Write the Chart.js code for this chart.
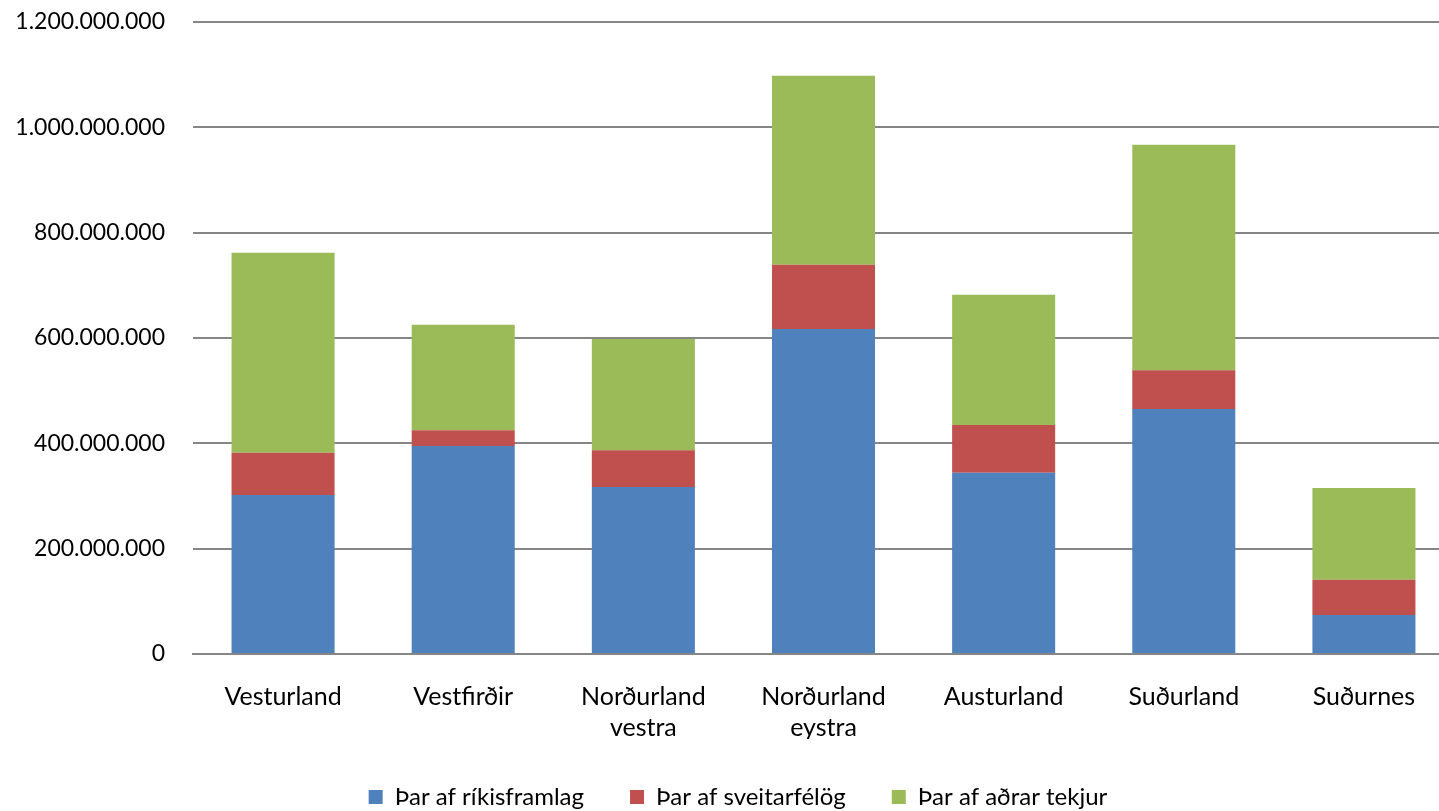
<!DOCTYPE html>
<html>
<head>
<meta charset="utf-8">
<script src="https://cdn.jsdelivr.net/npm/chart.js@4"></script>
<style>
html,body{margin:0;padding:0;background:#fff;overflow:hidden;}
#wrap{width:1439px;height:811px;position:relative;overflow:hidden;}
</style>
</head>
<body>
<div id="wrap"><canvas id="c" width="1454" height="811"></canvas></div>
<script>
const categories = [["Vesturland"], ["Vestfirðir"], ["Norðurland", "vestra"], ["Norðurland", "eystra"], ["Austurland"], ["Suðurland"], ["Suðurnes"]];
const rikisframlag = [302000000, 395000000, 317000000, 617000000, 344000000, 465000000, 74000000];
const sveitarfelog = [80000000, 30000000, 70000000, 122000000, 91000000, 74000000, 67000000];
const adrarTekjur = [380000000, 200000000, 211000000, 359000000, 247000000, 428000000, 174000000];
const seriesNames = ["Þar af ríkisframlag", "Þar af sveitarfélög", "Þar af aðrar tekjur"];
const yTicks = [0, 200000000, 400000000, 600000000, 800000000, 1000000000, 1200000000];

const FONT = "Lato, 'Open Sans', sans-serif";
function fmt(v){ return String(Math.round(v)).replace(/\B(?=(\d{3})+(?!\d))/g, "."); }

const legendFix = {
  id: 'legendFix',
  afterInit(chart){
    const lg = chart.legend;
    if (!lg) return;
    const origFit = lg.fit;
    lg.fit = function(){ origFit.call(this); this.height = 72; };
    const origDraw = lg.draw;
    lg.draw = function(){
      const ctx = this.ctx;
      ctx.save();
      ctx.translate(11, 0);
      origDraw.call(this);
      ctx.restore();
    };
  }
};

new Chart(document.getElementById('c'), {
  type: 'bar',
  data: {
    labels: categories,
    datasets: [
      {label: seriesNames[0], data: rikisframlag, backgroundColor: '#4F81BD'},
      {label: seriesNames[1], data: sveitarfelog, backgroundColor: '#C0504D'},
      {label: seriesNames[2], data: adrarTekjur, backgroundColor: '#9BBB59'}
    ]
  },
  plugins: [legendFix],
  options: {
    responsive: false,
    animation: false,
    devicePixelRatio: 1,
    layout: {padding: {top: 22, right: 0, left: 0, bottom: 0}},
    datasets: {bar: {categoryPercentage: 1.0, barPercentage: 0.572}},
    scales: {
      x: {
        stacked: true,
        grid: {display: false, drawTicks: false},
        border: {display: true, color: '#868686', width: 2},
        ticks: {color: '#000', font: {family: FONT, size: 25, lineHeight: 1.25}, padding: 27, maxRotation: 0},
        afterFit: s => { s.paddingLeft = 0; s.paddingRight = 0; s.height = 85; }
      },
      y: {
        stacked: true,
        min: 0, max: 1200000000,
        afterBuildTicks: s => { s.ticks = yTicks.map(v => ({value: v})); },
        afterFit: s => { s.width = 193; s.paddingTop = 0; s.paddingBottom = 0; },
        grid: {color: '#868686', lineWidth: 2, drawTicks: false},
        border: {display: false},
        ticks: {color: '#000', font: {family: FONT, size: 23}, padding: 28, callback: v => fmt(v)}
      }
    },
    plugins: {
      legend: {
        position: 'bottom',
        labels: {color: '#000', font: {family: FONT, size: 24}, boxWidth: 14, boxHeight: 14, padding: 46}
      },
      tooltip: {enabled: false}
    }
  }
});
</script>
</body>
</html>
